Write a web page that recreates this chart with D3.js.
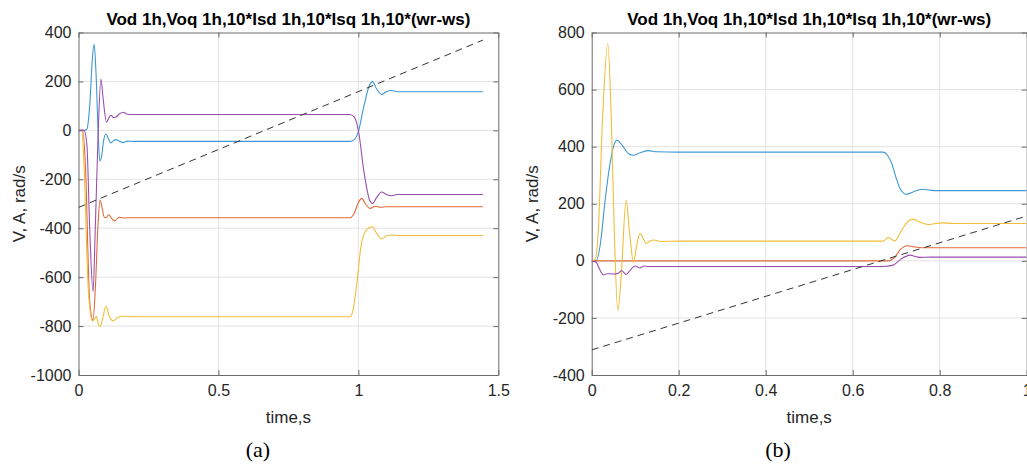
<!DOCTYPE html>
<html>
<head>
<meta charset="utf-8">
<script src="https://cdn.jsdelivr.net/npm/d3@7"></script>
<style>
  body { margin: 0; background: #fff; }
  svg { display: block; }
  .tick text { font-family: "Liberation Sans", Arial, sans-serif; font-size: 16px; fill: #262626; }
</style>
</head>
<body>
<div id="container"></div>
<script>
// ---- data: [time (s), value] ----
const titleText = "Vod 1h,Voq 1h,10*Isd 1h,10*Isq 1h,10*(wr-ws)";
const seriesColors = ["#3d97d3", "#e0693a", "#f0be3a", "#9b4fae"];

// panel (a)
const aXTicks = [0, 0.5, 1, 1.5];
const aYTicks = [-1000, -800, -600, -400, -200, 0, 200, 400];
const aVod = [[0,0],[0.02,0],[0.03,5],[0.04,100],[0.05,300],[0.056,352],[0.062,250],[0.07,0],[0.076,-125],[0.082,-110],[0.09,-40],[0.098,-15],[0.107,-35],[0.116,-51],[0.125,-42],[0.134,-38],[0.147,-45],[0.16,-50],[0.175,-44],[0.2,-45],[0.97,-45],[0.985,-38],[1.0,-5],[1.02,100],[1.04,185],[1.05,199],[1.065,170],[1.083,147],[1.1,158],[1.118,163],[1.14,158],[1.445,158]];
const aVoq = [[0,0],[0.015,0],[0.025,-150],[0.04,-700],[0.052,-776],[0.06,-650],[0.07,-380],[0.077,-285],[0.085,-320],[0.092,-355],[0.1,-356],[0.108,-345],[0.118,-360],[0.13,-370],[0.145,-355],[0.16,-358],[0.2,-357],[0.97,-357],[0.985,-340],[1.0,-295],[1.012,-278],[1.025,-300],[1.042,-319],[1.06,-310],[1.08,-314],[1.1,-312],[1.445,-312]];
const aIsd = [[0,0],[0.012,0],[0.02,-150],[0.035,-650],[0.05,-780],[0.058,-770],[0.064,-760],[0.07,-790],[0.077,-803],[0.086,-770],[0.098,-719],[0.11,-760],[0.124,-779],[0.14,-765],[0.16,-760],[0.2,-762],[0.97,-762],[0.98,-740],[0.995,-620],[1.01,-470],[1.03,-405],[1.05,-394],[1.065,-420],[1.083,-443],[1.1,-432],[1.12,-428],[1.14,-430],[1.445,-430]];
const aIsq = [[0,0],[0.02,0],[0.03,-60],[0.04,-400],[0.052,-660],[0.06,-400],[0.07,-20],[0.08,210],[0.088,130],[0.1,33],[0.108,50],[0.116,62],[0.125,52],[0.134,55],[0.147,68],[0.16,74],[0.175,66],[0.2,65],[0.97,65],[0.985,55],[1.0,0],[1.02,-170],[1.04,-285],[1.05,-299],[1.065,-275],[1.083,-252],[1.1,-262],[1.12,-267],[1.14,-262],[1.445,-262]];
const aSlip = [[0,-315],[1.445,369]];

// panel (b)
const bXTicks = [0, 0.2, 0.4, 0.6, 0.8, 1];
const bYTicks = [-400, -200, 0, 200, 400, 600, 800];
const bVod = [[0,0],[0.01,0],[0.02,60],[0.03,200],[0.04,320],[0.05,400],[0.0575,423],[0.07,405],[0.085,375],[0.096,370],[0.11,378],[0.13,386],[0.15,382],[0.2,381],[0.67,381],[0.68,370],[0.69,340],[0.7,290],[0.71,250],[0.724,233],[0.74,242],[0.759,251],[0.78,247],[0.8,246],[1,246]];
const bVoq = [[0,0],[0.68,0],[0.695,10],[0.71,40],[0.724,53],[0.74,49],[0.76,46],[1,46]];
const bIsd = [[0,0],[0.008,5],[0.015,100],[0.025,500],[0.037,761],[0.045,500],[0.052,100],[0.06,-175],[0.068,-50],[0.079,212],[0.087,100],[0.096,-6],[0.103,50],[0.111,96],[0.118,80],[0.125,61],[0.133,68],[0.142,73],[0.16,68],[0.2,69],[0.67,69],[0.682,82],[0.69,75],[0.697,70],[0.71,100],[0.725,135],[0.739,146],[0.755,135],[0.774,127],[0.79,131],[0.808,133],[0.83,131],[1,131]];
const bIsq = [[0,0],[0.01,-5],[0.02,-35],[0.027,-50],[0.035,-45],[0.05,-46],[0.06,-44],[0.069,-35],[0.079,-48],[0.09,-30],[0.1,-18],[0.111,-25],[0.12,-18],[0.13,-20],[0.2,-20],[0.67,-20],[0.693,-15],[0.71,5],[0.732,20],[0.745,15],[0.755,12],[0.78,13],[1,13]];
const bSlip = [[0,-312],[1,157]];

const width = 1027, height = 465;

const svg = d3.select("#container")
  .append("svg")
  .attr("width", width)
  .attr("height", height);

function drawPanel(cfg) {
  const x = d3.scaleLinear().domain(cfg.xDomain).range([cfg.left, cfg.right]);
  const y = d3.scaleLinear().domain(cfg.yDomain).range([cfg.bottom, cfg.top]);
  const g = svg.append("g").attr("id", cfg.id);

  // grid
  g.append("g").selectAll("line").data(cfg.xTicks.slice(1, -1)).enter().append("line")
    .attr("x1", d => x(d)).attr("x2", d => x(d))
    .attr("y1", cfg.top).attr("y2", cfg.bottom)
    .attr("stroke", "#e3e3e3").attr("stroke-width", 1);
  g.append("g").selectAll("line").data(cfg.yTicks.slice(1, -1)).enter().append("line")
    .attr("x1", cfg.left).attr("x2", cfg.right)
    .attr("y1", d => y(d)).attr("y2", d => y(d))
    .attr("stroke", "#e3e3e3").attr("stroke-width", 1);

  // axes (inward ticks on all four sides, like MATLAB's box)
  const fmt = d => String(d);
  g.append("g").attr("transform", "translate(0," + cfg.bottom + ")")
    .call(d3.axisBottom(x).tickValues(cfg.xTicks).tickFormat(fmt).tickSizeInner(-5).tickSizeOuter(0).tickPadding(10));
  g.append("g").attr("transform", "translate(" + cfg.left + ",0)")
    .call(d3.axisLeft(y).tickValues(cfg.yTicks).tickFormat(fmt).tickSizeInner(-5).tickSizeOuter(0).tickPadding(7));
  g.append("g").attr("transform", "translate(0," + cfg.top + ")")
    .call(d3.axisTop(x).tickValues(cfg.xTicks).tickFormat("").tickSizeInner(-5).tickSizeOuter(0));
  g.append("g").attr("transform", "translate(" + cfg.right + ",0)")
    .call(d3.axisRight(y).tickValues(cfg.yTicks).tickFormat("").tickSizeInner(-5).tickSizeOuter(0));
  g.selectAll(".domain").attr("stroke", "#6b6b6b");
  g.selectAll(".tick line").attr("stroke", "#6b6b6b");

  // clip
  svg.append("clipPath").attr("id", cfg.id + "-clip")
    .append("rect").attr("x", cfg.left).attr("y", cfg.top)
    .attr("width", cfg.right - cfg.left).attr("height", cfg.bottom - cfg.top);

  const line = d3.line().x(d => x(d[0])).y(d => y(d[1])).curve(d3.curveMonotoneX);
  const plot = g.append("g").attr("clip-path", "url(#" + cfg.id + "-clip)");
  cfg.series.forEach(function (s, i) {
    plot.append("path").datum(s)
      .attr("d", line)
      .attr("fill", "none")
      .attr("stroke", seriesColors[i])
      .attr("stroke-width", 1.1);
  });
  plot.append("path").datum(cfg.slip)
    .attr("d", d3.line().x(d => x(d[0])).y(d => y(d[1])))
    .attr("fill", "none")
    .attr("stroke", "#333")
    .attr("stroke-width", 1)
    .attr("stroke-dasharray", "7,5");

  const cx = (cfg.left + cfg.right) / 2;
  // title and labels
  g.append("text")
    .attr("x", cx).attr("y", 25)
    .attr("text-anchor", "middle")
    .style("font-family", "Liberation Sans, Arial, sans-serif")
    .style("font-weight", "bold").style("font-size", "17px")
    .attr("fill", "#000")
    .text(titleText);
  g.append("text")
    .attr("x", cx).attr("y", 423)
    .attr("text-anchor", "middle")
    .style("font-family", "Liberation Sans, Arial, sans-serif")
    .style("font-size", "17px").attr("fill", "#262626")
    .text("time,s");
  g.append("text")
    .attr("transform", "translate(" + (cfg.left - 54) + "," + ((cfg.top + cfg.bottom) / 2) + ") rotate(-90)")
    .attr("text-anchor", "middle")
    .style("font-family", "Liberation Sans, Arial, sans-serif")
    .style("font-size", "17px").attr("fill", "#262626")
    .text("V, A, rad/s");
  g.append("text")
    .attr("x", cfg.capX).attr("y", 457)
    .attr("text-anchor", "middle")
    .style("font-family", "Liberation Serif, Times New Roman, serif")
    .style("font-size", "22px").attr("fill", "#000")
    .text(cfg.caption);
}

drawPanel({
  id: "pa", left: 78.5, right: 498.3, top: 32.5, bottom: 375,
  xDomain: [0, 1.5], yDomain: [-1000, 400],
  xTicks: aXTicks, yTicks: aYTicks,
  series: [aVod, aVoq, aIsd, aIsq], slip: aSlip,
  caption: "(a)", capX: 258
});

drawPanel({
  id: "pb", left: 591.7, right: 1026.7, top: 32.5, bottom: 375,
  xDomain: [0, 1], yDomain: [-400, 800],
  xTicks: bXTicks, yTicks: bYTicks,
  series: [bVod, bVoq, bIsd, bIsq], slip: bSlip,
  caption: "(b)", capX: 778
});
</script>
</body>
</html>
